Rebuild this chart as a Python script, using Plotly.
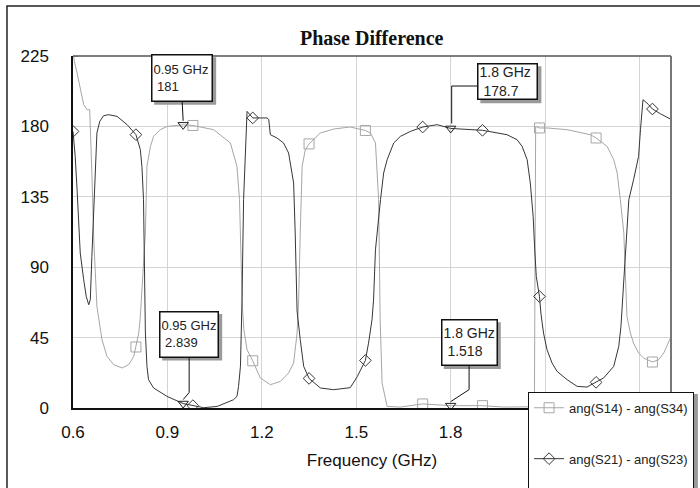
import plotly.graph_objects as go

# ---------------- data ----------------
freq_a = [0.600, 0.604, 0.613, 0.623, 0.634, 0.645, 0.653, 0.660, 0.666, 0.676, 0.687, 0.692,
          0.708, 0.729, 0.756, 0.777, 0.793, 0.800, 0.809, 0.814, 0.822, 0.830, 0.835, 0.846,
          0.856, 0.877, 0.899, 0.941, 0.950, 0.981, 1.047, 1.100, 1.121, 1.129, 1.134, 1.138,
          1.143, 1.153, 1.171, 1.195, 1.227, 1.259, 1.285, 1.301, 1.312, 1.317, 1.322, 1.328,
          1.338, 1.350, 1.386, 1.428, 1.471, 1.481, 1.529, 1.545, 1.561, 1.566, 1.571, 1.576,
          1.579, 1.582, 1.598, 1.640, 1.711, 1.800, 1.901, 1.968, 2.066, 2.070, 2.082, 2.106,
          2.170, 2.244, 2.262, 2.297, 2.318, 2.329, 2.339, 2.350, 2.360, 2.371, 2.381, 2.397,
          2.413, 2.441, 2.461, 2.477, 2.500]
phase_a = [228.0, 222.0, 214.1, 203.5, 193.9, 190.7, 190.7, 150.4, 107.6, 64.9, 52.2, 43.7,
           33.0, 27.7, 25.6, 27.7, 33.0, 39.0, 48.0, 58.6, 85.0, 111.9, 154.4, 167.2,
           173.6, 177.9, 180.0, 181.1, 181.0, 180.6, 177.9, 169.4, 154.4, 133.2, 90.5, 65.0,
           50.0, 37.3, 30.2, 19.2, 14.9, 17.0, 22.4, 28.8, 47.9, 69.2, 112.1, 154.4,
           165.1, 168.8, 175.8, 178.3, 179.4, 179.6, 177.4, 175.8, 169.4, 154.4, 133.2, 56.4,
           37.3, 16.0, 1.0, 0.6, 2.6, 1.518, 1.5, 0.6, 0.8, 180.0, 179.0, 179.0,
           177.9, 174.7, 172.6, 167.2, 158.7, 150.2, 133.2, 112.1, 58.6, 47.9, 41.5, 35.2,
           32.0, 29.4, 30.9, 35.2, 45.5]

freq_b = [0.600, 0.607, 0.613, 0.618, 0.623, 0.634, 0.642, 0.650, 0.655, 0.660, 0.666, 0.671,
          0.676, 0.685, 0.697, 0.713, 0.740, 0.772, 0.800, 0.814, 0.819, 0.824, 0.827, 0.830,
          0.835, 0.840, 0.856, 0.899, 0.950, 0.981, 1.015, 1.058, 1.110, 1.121, 1.126, 1.132,
          1.137, 1.142, 1.153, 1.171, 1.195, 1.217, 1.222, 1.227, 1.248, 1.269, 1.285, 1.301,
          1.306, 1.312, 1.322, 1.333, 1.350, 1.386, 1.428, 1.481, 1.503, 1.529, 1.539, 1.550,
          1.555, 1.561, 1.577, 1.587, 1.598, 1.619, 1.640, 1.672, 1.711, 1.757, 1.800, 1.852,
          1.901, 1.979, 2.011, 2.027, 2.043, 2.053, 2.062, 2.067, 2.072, 2.082, 2.087, 2.095,
          2.106, 2.122, 2.138, 2.170, 2.202, 2.233, 2.262, 2.286, 2.318, 2.334, 2.341, 2.350,
          2.366, 2.381, 2.397, 2.403, 2.408, 2.411, 2.429, 2.441, 2.466, 2.500]
phase_b = [176.8, 160.8, 139.5, 118.3, 99.1, 82.0, 71.3, 66.0, 69.2, 96.9, 128.9, 160.8,
           175.8, 183.2, 186.8, 187.5, 186.4, 181.1, 174.7, 165.1, 154.4, 133.2, 75.0, 47.9,
           26.6, 18.1, 12.8, 7.4, 2.839, 1.5, 0.2, 1.0, 5.3, 7.4, 13.8, 26.6,
           69.2, 133.2, 189.6, 185.4, 185.4, 185.4, 184.3, 174.7, 172.6, 169.4, 163.0, 143.8,
           111.9, 62.0, 43.7, 26.6, 18.9, 12.8, 11.7, 13.0, 20.0, 30.4, 41.5, 56.4,
           69.2, 101.1, 133.2, 150.2, 158.7, 169.4, 173.6, 176.8, 179.6, 181.1, 178.7, 178.3,
           177.5, 174.7, 171.5, 167.2, 158.7, 143.8, 122.5, 101.2, 84.1, 71.3, 60.0, 47.9,
           37.3, 28.8, 23.4, 18.1, 13.8, 13.4, 16.4, 19.2, 26.6, 39.4, 52.2, 80.0,
           133.2, 145.9, 160.8, 177.9, 190.7, 197.1, 193.9, 191.1, 188.1, 184.5]

marker_freq = [0.600, 0.800, 0.981, 1.171, 1.350, 1.529, 1.711, 1.901, 2.082, 2.262, 2.441]
marker_a = [228.0, 39.0, 180.6, 30.2, 168.8, 177.4, 2.6, 1.5, 179.0, 172.6, 29.4]
marker_b = [176.8, 174.7, 1.5, 185.4, 18.9, 30.4, 179.6, 177.5, 71.3, 16.4, 191.1]

readout_freq = [0.95, 0.95, 1.8, 1.8]
readout_val = [181, 2.839, 178.7, 1.518]
readout_label = ["0.95 GHz", "0.95 GHz", "1.8 GHz", "1.8 GHz"]
readout_value_text = ["181", "2.839", "178.7", "1.518"]

x_ticks = [0.6, 0.9, 1.2, 1.5, 1.8, 2.1, 2.4]
y_ticks = [0, 45, 90, 135, 180, 225]

name_a = "ang(S14) - ang(S34)"
name_b = "ang(S21) - ang(S23)"

# ---------------- styling ----------------
COL_A = "#a6a6a6"
COL_B = "#363636"
FONT = "Liberation Sans, Arial, sans-serif"

fig = go.Figure()

fig.add_trace(go.Scatter(x=freq_a, y=phase_a, mode="lines", line=dict(color=COL_A, width=1),
                         showlegend=False, legendgroup="a"))
fig.add_trace(go.Scatter(x=freq_b, y=phase_b, mode="lines", line=dict(color=COL_B, width=1),
                         showlegend=False, legendgroup="b"))
fig.add_trace(go.Scatter(x=marker_freq, y=marker_a, mode="markers", showlegend=False, legendgroup="a",
                         marker=dict(symbol="square-open", size=10, color=COL_A, line=dict(width=1, color=COL_A))))
fig.add_trace(go.Scatter(x=marker_freq, y=marker_b, mode="markers", showlegend=False, legendgroup="b",
                         marker=dict(symbol="diamond-open", size=9, color=COL_B, line=dict(width=1, color=COL_B))))
fig.add_trace(go.Scatter(x=readout_freq, y=readout_val, mode="markers", showlegend=False,
                         marker=dict(symbol="triangle-down-open", size=9, color="#222222",
                                     line=dict(width=1, color="#222222"))))

# legend entries
fig.add_trace(go.Scatter(x=[None], y=[None], mode="lines+markers", name=name_a, legendgroup="a",
                         line=dict(color=COL_A, width=1),
                         marker=dict(symbol="square-open", size=10, color=COL_A)))
fig.add_trace(go.Scatter(x=[None], y=[None], mode="lines+markers", name=name_b, legendgroup="b",
                         line=dict(color=COL_B, width=1),
                         marker=dict(symbol="diamond-open", size=9, color=COL_B)))
# empty spacer row so the legend box runs past the bottom edge as in the reference
fig.add_trace(go.Scatter(x=[None], y=[None], mode="lines", name=" ", legendgroup="c",
                         line=dict(color="rgba(0,0,0,0)", width=0)))

# readout callouts (box placement in pixels relative to the marked point)
box_geom = [  # xshift, yshift, outer width, outer height, font size
    (-32, 70.5, 62, 47.5, 13),
    (-24, 92.6, 60, 46.5, 13),
    (26.7, 65.1, 61, 37, 14),
    (-9.9, 86.3, 57, 46.7, 14),
]
leaders = [
    "M -1,23 L 0,4",
    "M 6,46.1 L 6,11 L 0,4",
    "M 26.7,42.4 L 1,42.4 L 1,5",
    "M 18.4,39.6 L 18.4,16 L 0,4",
]
bw, pad = 1.5, 1
shapes = []
annotations = []
for i in range(4):
    xs, ys, ow, oh, fs = box_geom[i]
    shapes.append(dict(type="rect", xref="x", yref="y", xsizemode="pixel", ysizemode="pixel",
                       xanchor=readout_freq[i], yanchor=readout_val[i],
                       x0=xs + 3, x1=xs + ow + 3, y0=ys - 3, y1=ys - oh - 3,
                       fillcolor="#9a9a9a", line=dict(width=0), layer="above"))
    shapes.append(dict(type="path", xref="x", yref="y", xsizemode="pixel", ysizemode="pixel",
                       xanchor=readout_freq[i], yanchor=readout_val[i], path=leaders[i],
                       line=dict(color="#111111", width=1), layer="above"))
    annotations.append(dict(x=readout_freq[i], y=readout_val[i], xref="x", yref="y",
                            xanchor="left", yanchor="top", xshift=xs, yshift=ys, showarrow=False,
                            text=readout_label[i] + "<br> " + readout_value_text[i],
                            align="left", valign="middle",
                            width=ow - 2 * (bw + pad), height=oh - 2 * (bw + pad),
                            borderpad=pad, borderwidth=bw, bordercolor="#111111", bgcolor="white",
                            font=dict(family=FONT, size=fs, color="#222222")))

# plot-area top / right border
shapes.append(dict(type="line", xref="paper", yref="paper", x0=0, x1=1, y0=1, y1=1,
                   line=dict(color="#555555", width=1.5), layer="above"))
shapes.append(dict(type="line", xref="paper", yref="paper", x0=1, x1=1, y0=0, y1=1,
                   line=dict(color="#777777", width=2), layer="above"))
# legend shadow
shapes.append(dict(type="rect", xref="paper", yref="paper", x0=0.766, x1=1.045, y0=-0.3, y1=0.04,
                   fillcolor="#9a9a9a", line=dict(width=0), layer="above"))
# outer frame
shapes.append(dict(type="rect", xref="paper", yref="paper", x0=-0.1104, x1=1.1, y0=-0.3, y1=1.142,
                   fillcolor="rgba(0,0,0,0)", line=dict(color="#222222", width=1.5), layer="above"))

fig.update_layout(
    width=700, height=488,
    margin=dict(l=73, r=29, t=56, b=80, autoexpand=False),
    paper_bgcolor="white", plot_bgcolor="white",
    title=dict(text="Phase Difference", x=0.531, xanchor="center", y=0.923, yanchor="middle",
               font=dict(family="Liberation Serif, Times New Roman, serif", size=20, color="#111111",
                         weight="bold")),
    xaxis=dict(range=[0.6, 2.5], tickvals=x_ticks, ticktext=[f"{v:.1f}" for v in x_ticks],
               showgrid=True, gridcolor="#d4d4d4", gridwidth=1, zeroline=False,
               showline=True, linecolor="#111111", linewidth=1.5, ticks="", ticklabelstandoff=8,
               tickfont=dict(family=FONT, size=17, color="#111111"), layer="below traces",
               title=dict(text="Frequency (GHz)", standoff=13, font=dict(family=FONT, size=17, color="#111111"))),
    yaxis=dict(range=[0, 225], tickvals=y_ticks, ticktext=[str(v) for v in y_ticks],
               showgrid=True, gridcolor="#d4d4d4", gridwidth=1, zeroline=False,
               showline=True, linecolor="#111111", linewidth=1.5, ticks="", ticklabelstandoff=19,
               tickfont=dict(family=FONT, size=17, color="#111111"), layer="below traces"),
    legend=dict(x=0.761, y=0.046, xanchor="left", yanchor="top", bgcolor="white",
                bordercolor="#111111", borderwidth=1, font=dict(family=FONT, size=13, color="#222222"),
                tracegroupgap=31, itemwidth=30),
    shapes=shapes, annotations=annotations,
)

fig.write_html("out.html")
